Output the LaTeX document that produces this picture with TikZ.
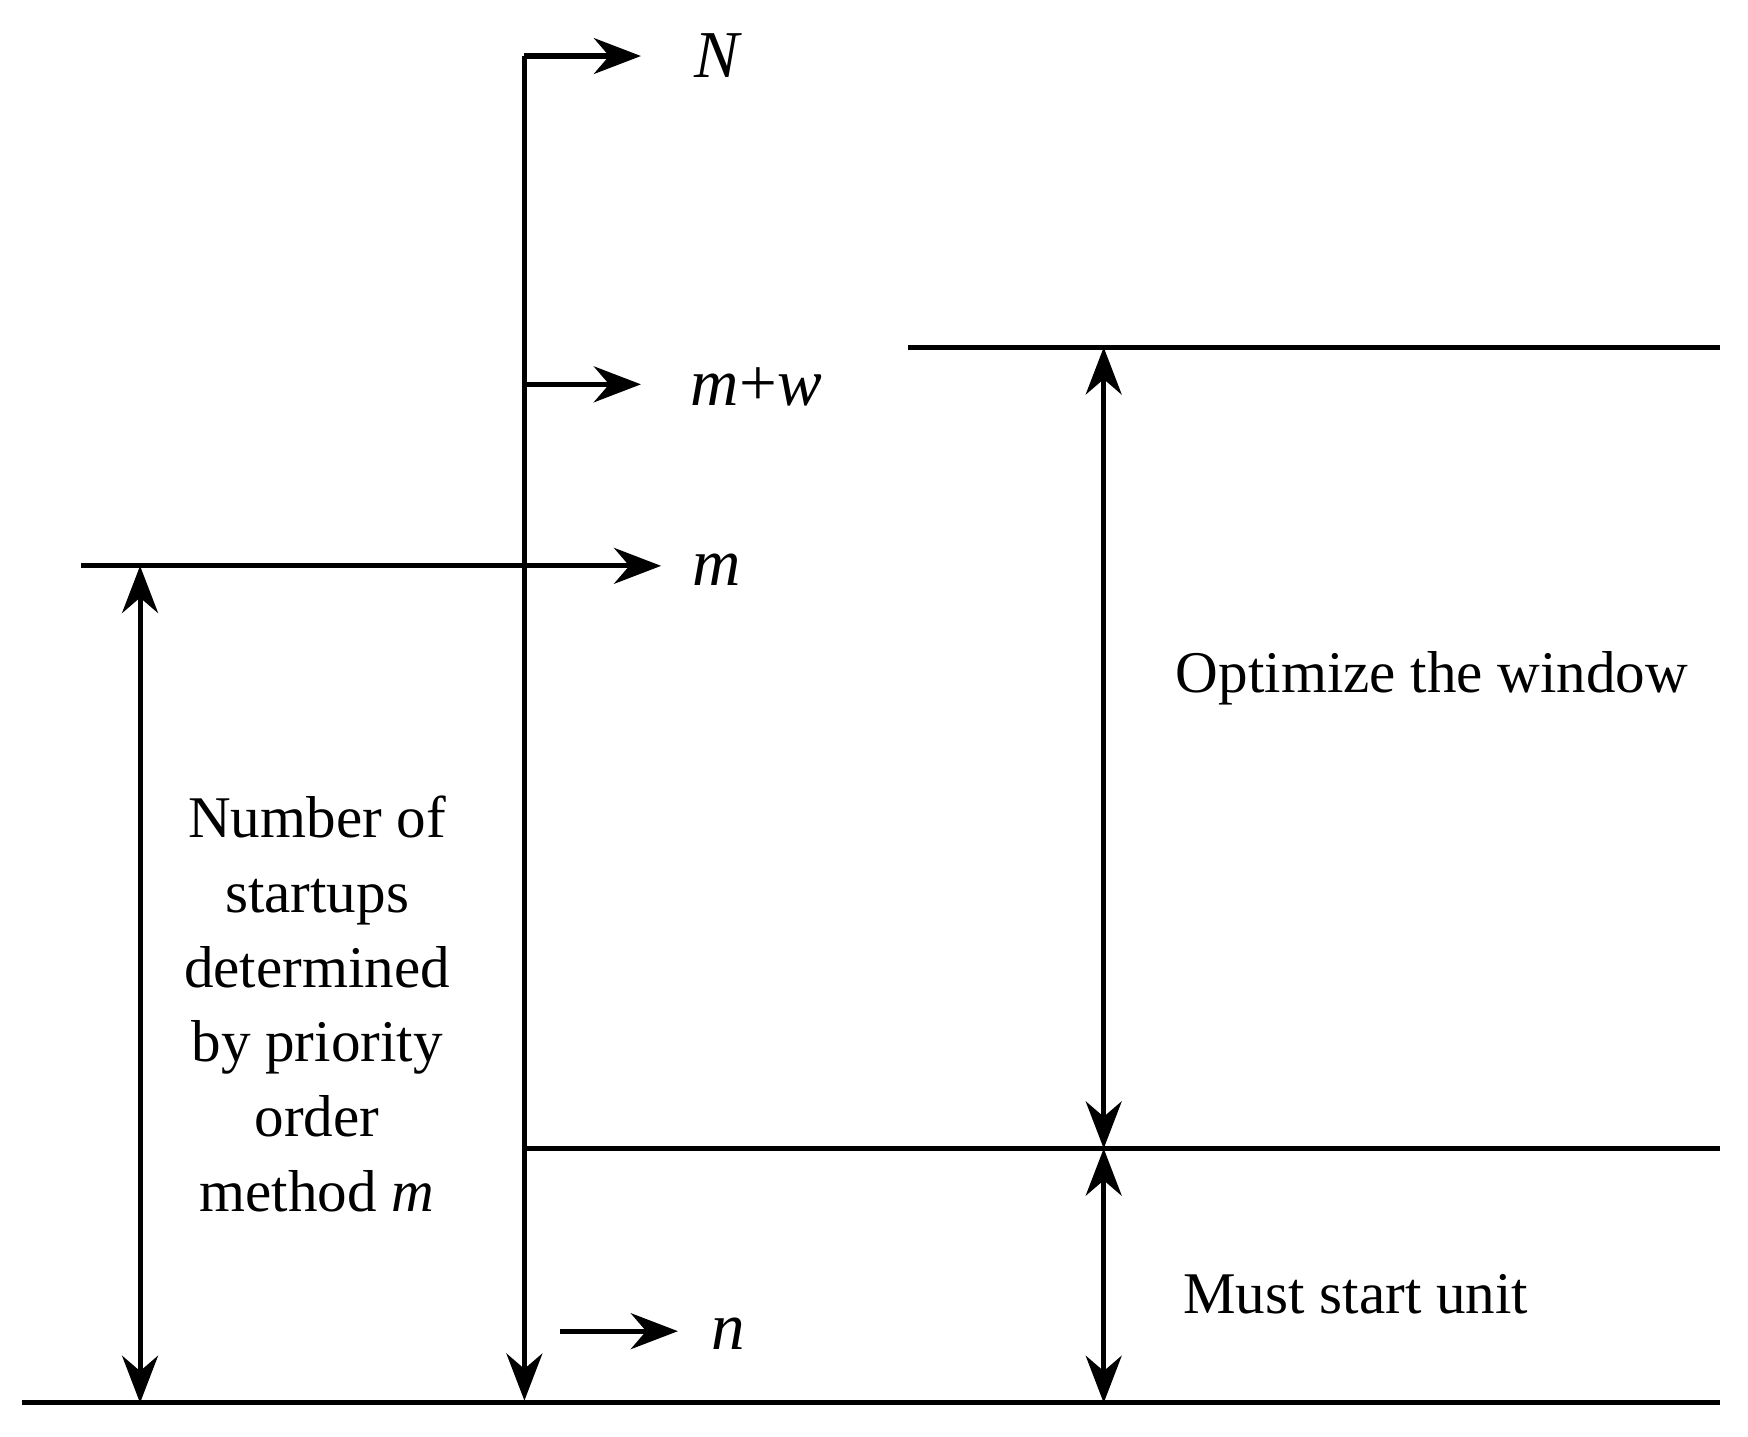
\documentclass[tikz,border=0pt]{standalone}
\usepackage{fontspec}
\setmainfont{Liberation Serif}
\usetikzlibrary{arrows.meta}
\begin{document}
\begin{tikzpicture}[x=0.01cm,y=-0.01cm,
  ln/.style={line width=1.3pt},
  ar/.style={ln,-{Stealth[length=4.2mm,width=3.2mm]}},
  dar/.style={ln,{Stealth[length=4.2mm,width=3.2mm]}-{Stealth[length=4.2mm,width=3.2mm]}},
  lab/.style={font=\fontsize{15}{19}\selectfont},
  mlab/.style={font=\fontsize{17}{20}\selectfont\itshape}]
\useasboundingbox (0,0) rectangle (1560,1282);
% coordinates
\coordinate (vt) at (468,50);
\coordinate (vb) at (468,1250);
\coordinate (Ne) at (572,50);
\coordinate (mws) at (468,343);
\coordinate (mwe) at (572,343);
\coordinate (ms) at (72,505);
\coordinate (me) at (590,505);
\coordinate (lt) at (125,505);
\coordinate (lb) at (125,1252);
\coordinate (tr1) at (810,310);
\coordinate (tr2) at (1535,310);
\coordinate (mid1) at (468,1025);
\coordinate (mid2) at (1535,1025);
\coordinate (b1) at (20,1252);
\coordinate (b2) at (1535,1252);
\coordinate (rt) at (985,310);
\coordinate (rm) at (985,1025);
\coordinate (rb) at (985,1252);
\coordinate (ns) at (500,1188);
\coordinate (ne) at (605,1188);
% lines
\draw[ar] (Ne -| vt) -- (Ne);
\draw[ar] (vt) -- (vb);
\draw[ar] (mws) -- (mwe);
\draw[ar] (ms) -- (me);
\draw[dar] (lt) -- (lb);
\draw[ln] (tr1) -- (tr2);
\draw[ln] (mid1) -- (mid2);
\draw[ln] (b1) -- (b2);
\draw[dar] (rt) -- (rm);
\draw[dar] (rm) -- (rb);
\draw[ar] (ns) -- (ne);
% labels
\node[mlab] (N) at (640,50) {N};
\node[mlab] (mw) at (675,345) {m\upshape+\itshape w};
\node[mlab] (m) at (640,508) {m};
\node[mlab] (n) at (650,1190) {n};
\node[lab,align=center] (left) at (283,896) {Number of\\startups\\determined\\by priority\\order\\method \textit{m}};
\node[lab] (opt) at (1278,605) {Optimize the window};
\node[lab] (must) at (1210,1155) {Must start unit};
\end{tikzpicture}
\end{document}
